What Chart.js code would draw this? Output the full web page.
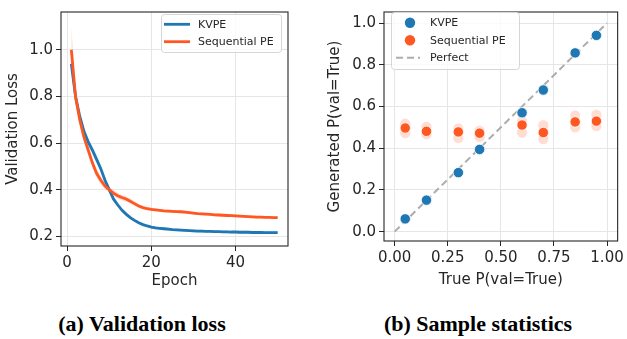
<!DOCTYPE html>
<html>
<head>
<meta charset="utf-8">
<script src="https://cdn.jsdelivr.net/npm/chart.js@4.4.1/dist/chart.umd.min.js"></script>
<style>
    html, body { margin: 0; padding: 0; background: #fff; }
    #wrap { position: relative; width: 627px; height: 339px; overflow: hidden; }
    canvas { position: absolute; top: 0; }
    #lossChart { left: 0; }
    #statsChart { left: 310px; }
    .caption {
        position: absolute; top: 311px; transform: translateX(-50%);
        font: bold 22px "Liberation Serif", serif; color: #000; white-space: nowrap;
    }
</style>
</head>
<body>
<div id="wrap">
    <canvas id="lossChart" width="300" height="295"></canvas>
    <canvas id="statsChart" width="317" height="295"></canvas>
    <div class="caption" style="left:142px">(a) Validation loss</div>
    <div class="caption" style="left:478px">(b) Sample statistics</div>
</div>
<script>
// ---- (a) validation loss ----
const epochs = [1, 2, 3, 4, 5, 6, 7, 8, 9, 10, 11, 12, 13, 14, 15, 16, 17, 18, 19, 20,
    21, 22, 23, 24, 25, 26, 27, 28, 29, 30, 31, 32, 33, 34, 35, 36, 37, 38, 39, 40,
    41, 42, 43, 44, 45, 46, 47, 48, 49, 50];
const kvpeLoss = [0.94, 0.80, 0.715, 0.65, 0.605, 0.57, 0.53, 0.49, 0.44, 0.40,
    0.36, 0.335, 0.312, 0.295, 0.28, 0.268, 0.258, 0.25, 0.244, 0.239,
    0.236, 0.234, 0.232, 0.230, 0.228, 0.227, 0.226, 0.225, 0.224, 0.223,
    0.222, 0.222, 0.221, 0.221, 0.220, 0.220, 0.219, 0.219, 0.218, 0.218,
    0.217, 0.217, 0.217, 0.216, 0.216, 0.216, 0.215, 0.215, 0.215, 0.215];
const seqLoss = [1.00, 0.80, 0.70, 0.625, 0.57, 0.515, 0.47, 0.44, 0.415, 0.40,
    0.385, 0.374, 0.366, 0.36, 0.35, 0.34, 0.33, 0.323, 0.318, 0.315,
    0.313, 0.311, 0.309, 0.308, 0.307, 0.306, 0.305, 0.303, 0.301, 0.299,
    0.297, 0.296, 0.295, 0.294, 0.292, 0.291, 0.290, 0.289, 0.288, 0.287,
    0.286, 0.285, 0.284, 0.283, 0.282, 0.282, 0.281, 0.281, 0.280, 0.280];
// half width of the shaded bands
const kvpeSpread = [0.012, 0.012, 0.012, 0.014, 0.016, 0.018, 0.018, 0.016, 0.014, 0.012,
    0.010, 0.009, 0.008, 0.008, 0.007, 0.007, 0.007, 0.006, 0.006, 0.006,
    0.006, 0.006, 0.006, 0.006, 0.006, 0.006, 0.006, 0.006, 0.006, 0.006,
    0.006, 0.006, 0.006, 0.006, 0.006, 0.006, 0.006, 0.006, 0.006, 0.006,
    0.006, 0.006, 0.006, 0.006, 0.006, 0.006, 0.006, 0.006, 0.006, 0.006];
const seqSpread = [0.10, 0.04, 0.025, 0.02, 0.02, 0.02, 0.018, 0.016, 0.014, 0.012,
    0.012, 0.012, 0.012, 0.012, 0.010, 0.010, 0.008, 0.008, 0.007, 0.007,
    0.006, 0.006, 0.006, 0.006, 0.006, 0.006, 0.006, 0.006, 0.006, 0.006,
    0.006, 0.006, 0.006, 0.006, 0.006, 0.006, 0.006, 0.006, 0.006, 0.006,
    0.006, 0.006, 0.006, 0.006, 0.006, 0.006, 0.006, 0.006, 0.006, 0.006];
const lossXTicks = [0, 20, 40];
const lossYTicks = [0.2, 0.4, 0.6, 0.8, 1.0];

// ---- (b) sample statistics ----
const trueP = [0.05, 0.15, 0.30, 0.40, 0.60, 0.70, 0.85, 0.95];
const kvpeGen = [0.061, 0.151, 0.283, 0.394, 0.570, 0.679, 0.857, 0.941];
const seqGen = [0.497, 0.481, 0.478, 0.472, 0.511, 0.475, 0.526, 0.530];
// faint markers of the single runs
const seqRunHigh = [0.518, 0.503, 0.495, 0.484, 0.530, 0.510, 0.557, 0.560];
const seqRunLow = [0.472, 0.467, 0.449, 0.453, 0.475, 0.444, 0.500, 0.506];
const perfectX = [0, 1];
const perfectY = [0, 1];
const statXTicks = [0, 0.25, 0.5, 0.75, 1.0];
const statYTicks = [0, 0.2, 0.4, 0.6, 0.8, 1.0];

const BLUE = '#1f77b4';
const ORANGE = '#ff5722';
const FONT = 'DejaVu Sans';
const AXIS_FONT = 15;

const pts = (xs, ys) => xs.map((x, i) => ({ x: x, y: ys[i] }));

// matplotlib like frame round the plot area
const framePlugin = {
    id: 'frame',
    afterDatasetsDraw(chart) {
        const { ctx, chartArea: a } = chart;
        ctx.save();
        ctx.strokeStyle = '#262626';
        ctx.lineWidth = 1.1;
        ctx.strokeRect(a.left, a.top, a.right - a.left, a.bottom - a.top);
        ctx.restore();
    }
};

// legend box drawn inside the plot area
const boxLegend = {
    id: 'boxLegend',
    afterDraw(chart, args, o) {
        if (!o || !o.items) return;
        const ctx = chart.ctx;
        ctx.save();
        ctx.beginPath();
        ctx.roundRect(o.x + 0.5, o.y + 0.5, o.w, o.h, 3);
        ctx.fillStyle = 'rgba(255,255,255,0.8)';
        ctx.fill();
        ctx.strokeStyle = '#d6d6d6';
        ctx.lineWidth = 1;
        ctx.stroke();
        ctx.font = '11px "' + FONT + '"';
        ctx.textBaseline = 'middle';
        ctx.fillStyle = '#262626';
        o.items.forEach((item, i) => {
            const ds = chart.data.datasets[item.index];
            const cy = o.y + o.first + i * o.rowH;
            ctx.save();
            if (item.kind === 'point') {
                ctx.beginPath();
                ctx.arc(o.x + o.markX, cy, 5.2, 0, Math.PI * 2);
                ctx.fillStyle = ds.backgroundColor;
                ctx.fill();
            } else {
                ctx.beginPath();
                ctx.moveTo(o.x + o.lineX0, cy);
                ctx.lineTo(o.x + o.lineX1, cy);
                ctx.strokeStyle = ds.borderColor;
                ctx.lineWidth = ds.borderWidth;
                if (ds.borderDash) ctx.setLineDash(ds.borderDash);
                ctx.stroke();
            }
            ctx.restore();
            ctx.fillText(ds.label, o.x + o.textX, cy + 0.5);
        });
        ctx.restore();
    }
};

function axis(min, max, ticks, digits, title, fitSize, titlePad, horizontal) {
    return {
        type: 'linear',
        min: min,
        max: max,
        afterBuildTicks: s => { s.ticks = ticks.map(v => ({ value: v })); },
        afterFit: s => {
            if (horizontal) s.height = fitSize; else s.width = fitSize;
        },
        grid: {
            color: '#e6e6e6',
            lineWidth: 1,
            drawTicks: true,
            tickLength: 5,
            tickColor: '#262626',
            tickWidth: 1
        },
        border: { display: false },
        ticks: {
            padding: 3,
            color: '#262626',
            font: { family: FONT, size: AXIS_FONT },
            callback: v => Number(v).toFixed(digits)
        },
        title: {
            display: true,
            text: title,
            color: '#262626',
            font: { family: FONT, size: AXIS_FONT },
            padding: horizontal ? { top: 0, bottom: titlePad } : { top: titlePad, bottom: 0 }
        }
    };
}

const upperOf = (vals, spread) => vals.map((v, i) => v + spread[i]);
const lowerOf = (vals, spread) => vals.map((v, i) => v - spread[i]);

new Chart(document.getElementById('lossChart'), {
    type: 'line',
    data: {
        datasets: [
            { label: 'kvpe hi', data: pts(epochs, upperOf(kvpeLoss, kvpeSpread)), borderWidth: 0, pointRadius: 0, fill: false, order: 5 },
            { label: 'kvpe lo', data: pts(epochs, lowerOf(kvpeLoss, kvpeSpread)), borderWidth: 0, pointRadius: 0, fill: '-1', backgroundColor: 'rgba(31,119,180,0.2)', order: 5 },
            { label: 'seq hi', data: pts(epochs, upperOf(seqLoss, seqSpread)), borderWidth: 0, pointRadius: 0, fill: false, order: 4 },
            { label: 'seq lo', data: pts(epochs, lowerOf(seqLoss, seqSpread)), borderWidth: 0, pointRadius: 0, fill: '-1', backgroundColor: 'rgba(255,87,34,0.2)', order: 4 },
            { label: 'KVPE', data: pts(epochs, kvpeLoss), borderColor: BLUE, backgroundColor: BLUE, borderWidth: 2.8, pointRadius: 0, fill: false, order: 1 },
            { label: 'Sequential PE', data: pts(epochs, seqLoss), borderColor: ORANGE, backgroundColor: ORANGE, borderWidth: 2.8, pointRadius: 0, fill: false, order: 0 }
        ]
    },
    options: {
        responsive: false,
        animation: false,
        layout: { padding: { top: 5, right: 12, bottom: 0, left: 0 } },
        scales: {
            x: axis(-1.45, 52.45, lossXTicks, 0, 'Epoch', 49, 5, true),
            y: axis(0.158, 1.1625, lossYTicks, 1, 'Validation Loss', 61, 4, false)
        },
        plugins: {
            legend: { display: false },
            tooltip: { enabled: false },
            boxLegend: {
                x: 161, y: 14, w: 120, h: 38, first: 10.3, rowH: 17.4,
                lineX0: 3, lineX1: 29, textX: 37,
                items: [{ index: 4, kind: 'line' }, { index: 5, kind: 'line' }]
            }
        }
    },
    plugins: [framePlugin, boxLegend]
});

new Chart(document.getElementById('statsChart'), {
    type: 'scatter',
    data: {
        datasets: [
            { label: 'KVPE', data: pts(trueP, kvpeGen), backgroundColor: BLUE, borderColor: '#ffffff', borderWidth: 0.8, pointRadius: 5.2, order: 0 },
            { label: 'Sequential PE', data: pts(trueP, seqGen), backgroundColor: ORANGE, borderColor: '#ffffff', borderWidth: 0.8, pointRadius: 5.2, order: 1 },
            { label: 'runs hi', data: pts(trueP, seqRunHigh), backgroundColor: 'rgba(255,87,34,0.2)', borderColor: 'rgba(255,255,255,0.2)', borderWidth: 0.8, pointRadius: 5.2, order: 2 },
            { label: 'runs lo', data: pts(trueP, seqRunLow), backgroundColor: 'rgba(255,87,34,0.2)', borderColor: 'rgba(255,255,255,0.2)', borderWidth: 0.8, pointRadius: 5.2, order: 2 },
            { type: 'line', label: 'Perfect', data: pts(perfectX, perfectY), borderColor: '#adadad', borderWidth: 2, borderDash: [7, 4], pointRadius: 0, fill: false, order: 3 }
        ]
    },
    options: {
        responsive: false,
        animation: false,
        layout: { padding: { top: 5, right: 6, bottom: 0, left: 0 } },
        scales: {
            x: axis(-0.05, 1.05, statXTicks, 2, 'True P(val=True)', 54, 6, true),
            y: axis(-0.045, 1.053, statYTicks, 1, 'Generated P(val=True)', 74, 16, false)
        },
        plugins: {
            legend: { display: false },
            tooltip: { enabled: false },
            boxLegend: {
                x: 81, y: 12, w: 128, h: 57, first: 10.7, rowH: 17.5,
                markX: 19, lineX0: 5, lineX1: 29, textX: 39,
                items: [{ index: 0, kind: 'point' }, { index: 1, kind: 'point' }, { index: 4, kind: 'line' }]
            }
        }
    },
    plugins: [framePlugin, boxLegend]
});
</script>
</body>
</html>
